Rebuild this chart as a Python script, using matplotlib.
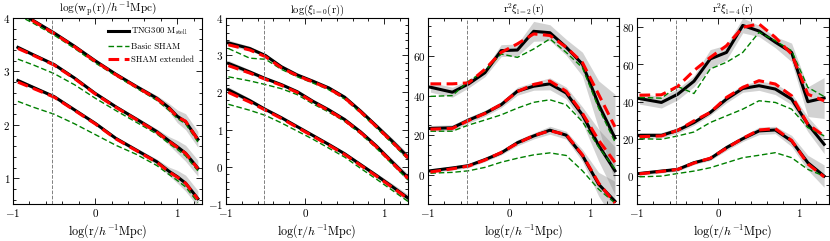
import numpy as np
import matplotlib
matplotlib.use('Agg')
import matplotlib.pyplot as plt
from matplotlib.ticker import MultipleLocator, AutoMinorLocator

plt.rcParams['font.family'] = 'serif'
plt.rcParams['font.serif'] = ['cmr10', 'DejaVu Serif']
plt.rcParams['mathtext.fontset'] = 'cm'
plt.rcParams['axes.formatter.use_mathtext'] = True
plt.rcParams['axes.unicode_minus'] = True

# projected correlation function (panel 1)
x_wp = [-0.94, -0.75, -0.5, -0.25, 0.0, 0.25, 0.5, 0.75, 0.9, 1.0, 1.1, 1.25]
wp_tng = [[4.12, 3.95, 3.72, 3.47, 3.20, 2.95, 2.72, 2.50, 2.32, 2.16, 2.06, 1.73],
          [3.45, 3.31, 3.13, 2.875, 2.59, 2.34, 2.11, 1.875, 1.70, 1.59, 1.47, 1.19],
          [2.83, 2.70, 2.53, 2.28, 2.03, 1.75, 1.53, 1.31, 1.13, 1.03, 0.91, 0.62]]
wp_basic = [[4.05, 3.90, 3.68, 3.43, 3.16, 2.92, 2.69, 2.46, 2.27, 2.12, 2.02, 1.68],
            [3.23, 3.12, 2.96, 2.75, 2.50, 2.27, 2.05, 1.83, 1.65, 1.54, 1.42, 1.14],
            [2.44, 2.33, 2.20, 2.02, 1.82, 1.62, 1.45, 1.24, 1.07, 0.96, 0.84, 0.55]]
wp_ext = [[4.11, 3.94, 3.71, 3.46, 3.19, 2.94, 2.71, 2.49, 2.31, 2.15, 2.07, 1.72],
          [3.43, 3.30, 3.12, 2.865, 2.58, 2.33, 2.10, 1.865, 1.69, 1.58, 1.47, 1.18],
          [2.80, 2.68, 2.52, 2.27, 2.02, 1.74, 1.52, 1.30, 1.12, 1.02, 0.91, 0.61]]
wp_err = [0.04, 0.03, 0.03, 0.03, 0.03, 0.03, 0.04, 0.05, 0.08, 0.12, 0.15, 0.15]

# multipoles
x_xi = [-0.97, -0.7, -0.5, -0.3, -0.1, 0.1, 0.3, 0.5, 0.7, 0.9, 1.1, 1.3]

xi0_tng = [[3.33, 3.18, 2.99, 2.69, 2.47, 2.30, 2.12, 1.87, 1.50, 1.10, 0.69, 0.26],
           [2.78, 2.55, 2.37, 2.21, 2.02, 1.76, 1.53, 1.27, 0.94, 0.56, 0.13, -0.29],
           [2.07, 1.78, 1.54, 1.32, 1.08, 0.84, 0.60, 0.35, 0.06, -0.23, -0.53, -0.84]]
xi0_basic = [[3.18, 2.92, 2.89, 2.62, 2.42, 2.25, 2.07, 1.82, 1.45, 1.05, 0.63, 0.20],
             [2.42, 2.31, 2.21, 2.10, 1.94, 1.69, 1.47, 1.22, 0.89, 0.50, 0.07, -0.35],
             [1.68, 1.52, 1.38, 1.18, 0.96, 0.74, 0.50, 0.26, -0.04, -0.33, -0.63, -0.93]]
xi0_ext = [[3.28, 3.14, 2.96, 2.66, 2.45, 2.28, 2.10, 1.85, 1.48, 1.08, 0.67, 0.24],
           [2.72, 2.52, 2.35, 2.19, 2.00, 1.74, 1.51, 1.25, 0.92, 0.54, 0.11, -0.31],
           [2.00, 1.74, 1.52, 1.30, 1.06, 0.82, 0.58, 0.33, 0.04, -0.25, -0.55, -0.86]]
xi0_err = [0.08, 0.06, 0.04, 0.03, 0.03, 0.03, 0.03, 0.04, 0.05, 0.06, 0.08, 0.10]

xi2_tng = [[44.2, 41.7, 45.9, 51.5, 62.6, 62.9, 72.3, 71.6, 64.3, 55.8, 35.4, 18.7],
           [23.5, 23.8, 27.7, 31.1, 35.4, 42.2, 44.7, 45.9, 41.3, 30.3, 15.0, 2.2],
           [2.2, 3.6, 4.8, 7.8, 11.2, 16.3, 19.7, 22.6, 20.1, 9.9, -4.6, -13.1]]
xi2_basic = [[39.6, 40.0, 47.3, 52.4, 60.9, 59.2, 63.4, 68.5, 61.7, 54.0, 33.7, 16.7],
             [22.1, 22.1, 25.2, 27.7, 30.3, 33.7, 36.6, 37.9, 35.4, 26.9, 14.1, 3.1],
             [1.0, 1.4, 2.2, 3.9, 6.5, 8.5, 10.2, 11.2, 9.9, 2.2, -7.1, -14.0]]
xi2_ext = [[45.9, 45.9, 46.4, 53.2, 61.7, 66.0, 71.0, 70.2, 64.3, 56.6, 40.5, 24.3],
           [23.1, 23.5, 27.5, 31.0, 35.6, 42.0, 45.6, 47.3, 42.2, 31.1, 17.5, 6.5],
           [1.6, 3.2, 4.6, 7.6, 11.4, 16.0, 19.9, 22.3, 20.4, 10.2, -4.0, -14.0]]
xi2_err = [[2.5, 2.5, 2.0, 2.0, 3.0, 3.0, 5.0, 4.0, 4.0, 6.0, 12.0, 22.0],
           [1.5, 1.5, 1.5, 1.5, 1.5, 2.0, 2.0, 3.0, 3.0, 4.0, 8.0, 12.0],
           [1.0, 1.0, 1.0, 1.0, 1.0, 1.5, 1.5, 2.0, 2.0, 3.0, 6.0, 10.0]]

xi4_tng = [[41.7, 39.6, 44.0, 51.0, 63.0, 66.5, 81.0, 78.0, 72.0, 66.5, 40.0, 42.0],
           [21.9, 21.9, 24.6, 28.8, 34.2, 41.4, 47.1, 48.6, 46.8, 41.4, 27.9, 17.1],
           [1.4, 2.7, 3.6, 7.2, 9.4, 15.3, 20.1, 24.3, 24.8, 18.9, 7.2, 0.0]]
xi4_basic = [[42.3, 41.9, 48.2, 44.4, 57.6, 61.2, 66.5, 77.3, 72.8, 67.4, 47.7, 42.8],
             [20.1, 19.8, 21.6, 23.7, 28.8, 32.4, 36.0, 40.5, 39.6, 36.0, 26.1, 21.6],
             [-0.4, 0.0, 1.4, 2.7, 4.5, 7.2, 9.9, 11.2, 12.6, 9.9, 3.6, 0.0]]
xi4_ext = [[43.5, 43.7, 48.2, 56.7, 63.8, 70.1, 80.0, 81.8, 74.6, 65.6, 44.0, 40.5],
           [21.2, 21.6, 24.6, 29.7, 34.2, 42.3, 47.7, 51.3, 49.5, 43.2, 27.9, 21.6],
           [1.2, 2.5, 3.6, 7.0, 9.6, 15.0, 20.3, 24.8, 25.5, 19.2, 6.5, -0.4]]
xi4_err = [[3.0, 3.0, 3.0, 3.0, 5.0, 4.0, 4.0, 3.0, 3.0, 5.0, 8.0, 11.0],
           [1.5, 1.5, 1.5, 1.5, 1.5, 2.0, 2.0, 2.5, 3.0, 3.0, 4.0, 5.0],
           [1.0, 1.0, 1.0, 1.0, 1.0, 1.5, 1.5, 2.0, 2.0, 3.0, 4.0, 6.0]]

titles = [r'$\mathrm{log(w_p(r)}/h^{-1}\mathrm{Mpc)}$',
          r'$\mathrm{log(}\xi_{\mathrm{l=0}}\mathrm{(r))}$',
          r'$\mathrm{r^2}\xi_{\mathrm{l=2}}\mathrm{(r)}$',
          r'$\mathrm{r^2}\xi_{\mathrm{l=4}}\mathrm{(r)}$']
title_size = [8.2, 7.6, 7.6, 7.6]
xlabel = r'$\mathrm{log(r}/h^{-1}\mathrm{Mpc)}$'
r_cut = np.log10(0.3)

# axes boxes in pixels: left, right
W, H = 830., 241.
boxes = [(13, 202), (226, 408), (428, 619), (637, 829)]
top_px, bot_px = 18, 204

panels = [
    (x_wp, wp_tng, wp_basic, wp_ext, [wp_err] * 3, (-1, 1.3), (0.52, 4.0), 1.0),
    (x_xi, xi0_tng, xi0_basic, xi0_ext, [xi0_err] * 3, (-1, 1.3), (-1.0, 4.0), 1.0),
    (x_xi, xi2_tng, xi2_basic, xi2_ext, xi2_err, (-1, 1.35), (-14.5, 79.0), 20.0),
    (x_xi, xi4_tng, xi4_basic, xi4_ext, xi4_err, (-1, 1.36), (-15.0, 85.0), 20.0),
]

fig = plt.figure(figsize=(W / 100, H / 100), dpi=100)

for i, (xx, tng, basic, ext, err, xl, yl, ystep) in enumerate(panels):
    l, r = boxes[i]
    ax = fig.add_axes([l / W, (H - bot_px) / H, (r - l) / W, (bot_px - top_px) / H])
    xx = np.array(xx)
    for k in range(3):
        y = np.array(tng[k])
        e = np.array(err[k])
        ax.fill_between(xx, y - e, y + e, color='grey', alpha=0.35, lw=0)
        ax.plot(xx, y, color='k', lw=2.2, label=r'TNG300 M$_{\rm stell}$' if k == 0 else None)
        ax.plot(xx, basic[k], color='green', ls='--', lw=1.0, dashes=(4, 2),
                label='Basic SHAM' if k == 0 else None)
        ax.plot(xx, ext[k], color='red', ls='--', lw=2.2, dashes=(3.5, 1.8),
                label='SHAM extended' if k == 0 else None)
    ax.axvline(r_cut, color='grey', ls='--', lw=0.7)
    ax.set_xlim(*xl)
    ax.set_ylim(*yl)
    ax.xaxis.set_major_locator(MultipleLocator(1))
    ax.xaxis.set_minor_locator(AutoMinorLocator(5))
    ax.yaxis.set_major_locator(MultipleLocator(ystep))
    ax.yaxis.set_minor_locator(AutoMinorLocator(5 if ystep == 1 else 4))
    ax.tick_params(which='both', direction='in', top=True, right=True, labelsize=8, pad=2,
                   width=0.6)
    ax.tick_params(which='major', length=4)
    ax.tick_params(which='minor', length=2)
    ax.set_xlabel(xlabel, fontsize=8.7, labelpad=2.5)
    ax.set_title(titles[i], fontsize=title_size[i], pad=2)
    if i == 0:
        ax.legend(loc='upper right', frameon=False, fontsize=6.3, handlelength=2.4,
                  handletextpad=0.3, borderaxespad=0.5, labelspacing=0.55)

fig.savefig('out.png', dpi=100)
